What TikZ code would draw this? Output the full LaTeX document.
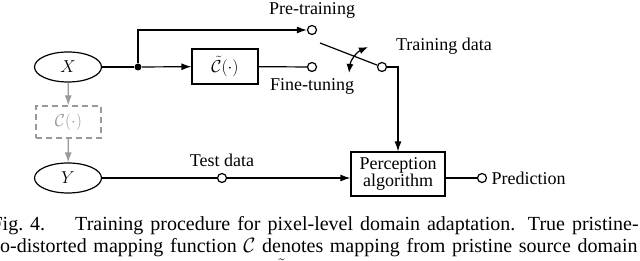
\documentclass[tikz,border=0pt]{standalone}
\usepackage{fontspec}
\setmainfont{Liberation Serif}
\usetikzlibrary{arrows.meta,shapes.geometric}
\begin{document}
\begin{tikzpicture}[x=1pt,y=-1pt,
  font=\fontsize{18}{20}\selectfont,
  line width=1.2pt,
  ell/.style={draw, ellipse, minimum width=67pt, minimum height=30pt, inner sep=0pt},
  blk/.style={draw, rectangle, inner sep=0pt},
  dbox/.style={draw=gray!80, dashed, dash pattern=on 6pt off 4pt, rectangle, text=gray!80, minimum width=65pt, minimum height=32pt, inner sep=0pt},
  port/.style={draw, circle, fill=white, minimum size=9pt, inner sep=0pt},
  jdot/.style={fill, circle, minimum size=7pt, inner sep=0pt},
  arr/.style={-{Latex[length=10pt,width=7pt]}},
  garr/.style={draw=gray!80, -{Latex[length=10pt,width=7pt]}, fill=gray!80},
  lbl/.style={inner sep=0pt},
  captxt/.style={font=\fontsize{20}{22}\selectfont, anchor=base west, inner sep=0pt}
]
\useasboundingbox (0,0) rectangle (640,261);
\clip (0,0) rectangle (640,261);
% nodes
\node[ell] (X) at (68,67) {$X$};
\node[ell] (Y) at (68,178) {$Y$};
\node[dbox] (C) at (68.5,122) {$\mathcal{C}(\cdot)$};
\node[jdot] (j) at (138,67) {};
\node[blk, minimum width=66pt, minimum height=35pt] (Ct) at (225,66.5) {$\tilde{\mathcal{C}}(\cdot)$};
\node[port] (pt) at (312,30) {};
\node[port] (ft) at (312,67) {};
\node[port] (sw) at (382,67) {};
\coordinate (bl) at (320,43);
\coordinate (a1) at (349,73);
\coordinate (a2) at (368,47);
\node[blk, minimum width=94pt, minimum height=44pt, align=center] (P) at (398,174) {Perception\\[-3pt]algorithm};
\node[port] (td) at (222,178) {};
\node[port] (pr) at (482,178) {};
% labels
\node[lbl] (lpt) at (312,10) {Pre-training};
\node[lbl] (lft) at (312,86) {Fine-tuning};
\node[lbl] (ltr) at (444,46) {Training data};
\node[lbl] (lte) at (222,160) {Test data};
\node[lbl, anchor=west] (lpr) at (491,178) {Prediction};
% connectors
\draw[garr] (X) -- (C);
\draw[garr] (C) -- (Y);
\draw (X) -- (j);
\draw[arr] (j) -- (Ct);
\draw[arr] (j) |- (pt);
\draw (Ct) -- (ft);
\draw (sw) -- (bl);
\draw[{Latex[length=9pt,width=7pt]}-{Latex[length=9pt,width=7pt]}] (a1) to[bend left=30] (a2);
\draw[arr] (sw) -| (P.north);
\draw (Y) -- (td);
\draw[arr] (td) -- (P.west |- td);
\draw (P.east |- pr) -- (pr);
% caption
\node[captxt] (c1) at (-9,231) {\makebox[647pt][s]{Fig.~4.\hspace{30pt}Training procedure for pixel-level domain adaptation. True pristine-}};
\node[captxt] (c2) at (-6,253) {\makebox[643pt][s]{to-distorted mapping function $\mathcal{C}$ denotes mapping from pristine source domain}};
\node[captxt] (c3) at (272,278) {$\tilde{\mathcal{C}}$};
\end{tikzpicture}
\end{document}
